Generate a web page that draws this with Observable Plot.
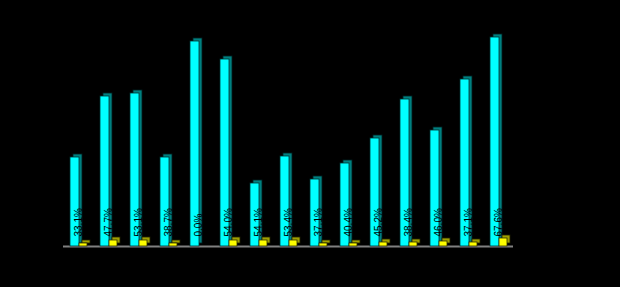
<!DOCTYPE html>
<html>
<head>
<meta charset="utf-8">
<script src="https://cdn.jsdelivr.net/npm/d3@7"></script>
<script src="https://cdn.jsdelivr.net/npm/@observablehq/plot@0.6"></script>
<style>
  html, body { margin: 0; padding: 0; background: #000; }
  #chart svg { display: block; background: #000; }
</style>
</head>
<body>
<div id="chart"></div>
<script>
const groups = ["1","2","3","4","5","6","7","8","9","10","11","12","13","14","15"];
const cyanValues = [89,150,153,89,205,187,63,90,67,83,108,147,116,167,209];
const yellowValues = [3,6,6,3,0,6,6,6,3,3,4,4,5,4,8];
const labels = ["33.1%","47.7%","53.1%","38.7%","0.0%","54.0%","54.1%","53.4%","37.1%","40.4%","45.2%","38.4%","46.0%","37.1%","67.6%"];

const data = groups.map((g, i) => ({g, c: cyanValues[i], y: yellowValues[i], label: labels[i]}));

const depth = 3;
const chart = Plot.plot({
  width: 620,
  height: 287,
  marginLeft: 63,
  marginRight: 107,
  marginTop: 26,
  marginBottom: 41,
  style: {background: "#000", fontFamily: "'Liberation Sans', Arial, sans-serif"},
  x: {domain: groups, paddingInner: 13 / 30, paddingOuter: 6.5 / 30, axis: null},
  y: {domain: [0, 220], axis: null},
  marks: [
    Plot.ruleY([0], {stroke: "#808080", strokeWidth: 2}),
    // cyan bars: 3D back (side + top), then front
    Plot.barY(data, {x: "g", y: "c", insetRight: 8, dx: depth, dy: -depth, fill: "#008080", stroke: "#002020", strokeWidth: 0.8}),
    Plot.barY(data, {x: "g", y: "c", insetRight: 8, fill: "#00FFFF", stroke: "#003030", strokeWidth: 0.8}),
    // yellow bars
    Plot.barY(data, {x: "g", y: "y", insetLeft: 9, dx: depth, dy: -depth, fill: "#A0A000", stroke: "#202000", strokeWidth: 0.8}),
    Plot.barY(data, {x: "g", y: "y", insetLeft: 9, fill: "#FFFF00", stroke: "#303000", strokeWidth: 0.8}),
    // labels
    Plot.text(data, {x: "g", y: () => 0, text: "label", rotate: -90, textAnchor: "start", dy: -10, fill: "#000", fontSize: 10})
  ]
});
document.getElementById("chart").appendChild(chart);
</script>
</body>
</html>
